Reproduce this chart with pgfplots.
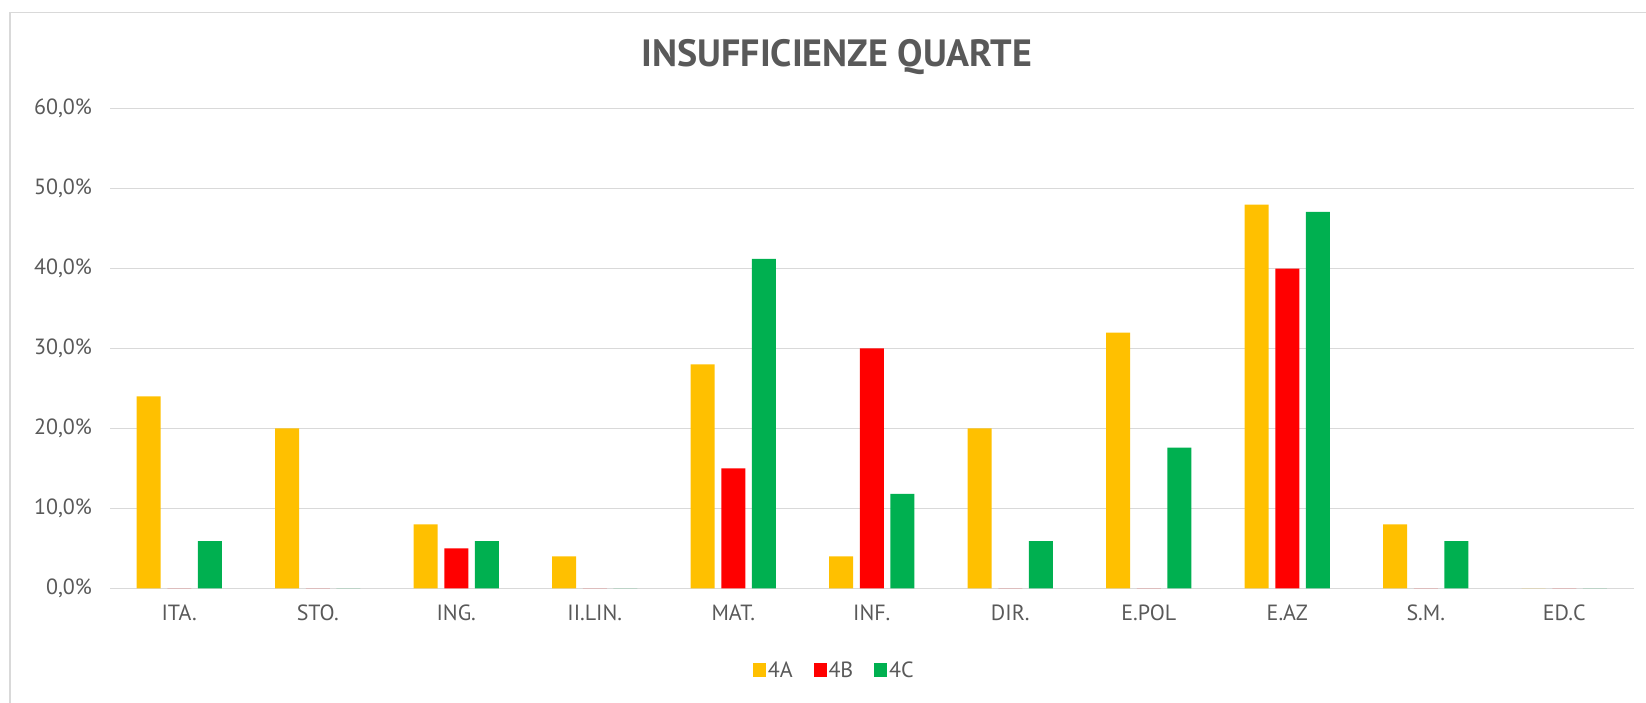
\documentclass[border=0pt]{standalone}
\usepackage{pgfplots}
\pgfplotsset{compat=1.18}
\usepackage{fontspec}
\setmainfont{PT Sans}
\definecolor{cA}{HTML}{FFC000}
\definecolor{cB}{HTML}{FF0000}
\definecolor{cC}{HTML}{00B050}
\definecolor{gridc}{HTML}{D9D9D9}
\definecolor{txt}{HTML}{595959}
\begin{document}
\begin{tikzpicture}[x=1pt,y=1pt]
\useasboundingbox (0,0) rectangle (1646,702);
\draw[color=gridc, line width=1.5pt] (10,-20) -- (10,689.3) -- (1700,689.3);
\node[text=txt, font=\fontsize{38}{42}\selectfont\bfseries, anchor=base] at (837,635.3) {INSUFFICIENZE QUARTE};
\begin{axis}[
  at={(110pt,113.7pt)}, anchor=south west,
  scale only axis, width=1523.5pt, height=479.6pt,
  ymin=0, ymax=60, xmin=-0.5, xmax=10.5,
  ybar=6.7pt, bar width=24pt,
  axis line style={draw=none},
  major tick length=0pt,
  ymajorgrids, grid style={gridc, line width=1.5pt},
  ytick={0,10,20,30,40,50,60},
  yticklabels={{0,0\%},{10,0\%},{20,0\%},{30,0\%},{40,0\%},{50,0\%},{60,0\%}},
  xtick={0,1,2,3,4,5,6,7,8,9,10},
  xticklabels={ITA.,STO.,ING.,II.LIN.,MAT.,INF.,DIR.,E.POL,E.AZ,S.M.,ED.C},
  tick label style={text=txt, font=\fontsize{22}{25}\selectfont},
  yticklabel style={xshift=-14.5pt},
  xticklabel style={yshift=-13pt},
  legend columns=-1,
  legend style={draw=none, at={(0.4755,-0.1704)}, anchor=center, font=\fontsize{22}{25}\selectfont, text=txt,
    /tikz/every even column/.append style={column sep=19pt}},
  legend image code/.code={\fill (0pt,-6.7pt) rectangle (12.7pt,6.7pt);},
]
\addplot[fill=cA, draw=none] coordinates {(0,24) (1,20) (2,8) (3,4) (4,28) (5,4) (6,20) (7,32) (8,48) (9,8) (10,0)};
\addplot[fill=cB, draw=none] coordinates {(0,0) (1,0) (2,5) (3,0) (4,15) (5,30) (6,0) (7,0) (8,40) (9,0) (10,0)};
\addplot[fill=cC, draw=none] coordinates {(0,5.9) (1,0) (2,5.9) (3,0) (4,41.2) (5,11.8) (6,5.9) (7,17.6) (8,47.1) (9,5.9) (10,0)};
\legend{4A,4B,4C}
\end{axis}
\end{tikzpicture}
\end{document}
